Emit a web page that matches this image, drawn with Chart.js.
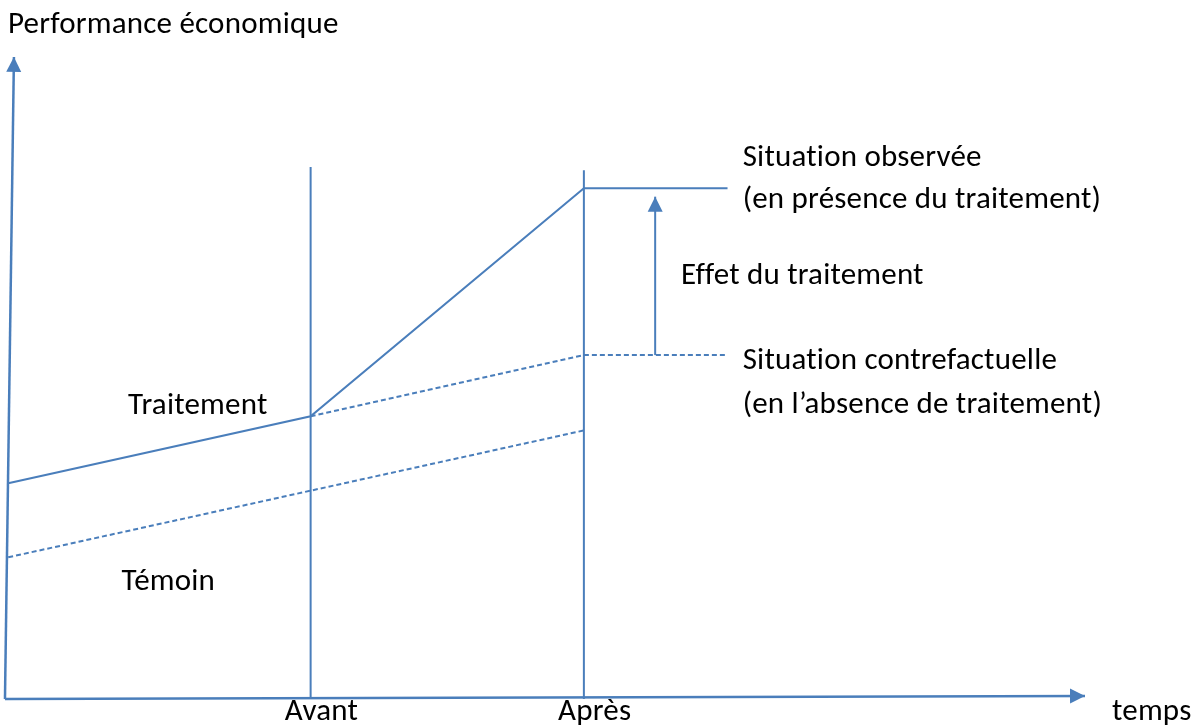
<!DOCTYPE html>
<html>
<head>
<meta charset="utf-8">
<script src="https://cdn.jsdelivr.net/npm/chart.js@4"></script>
<style>
  html, body { margin: 0; padding: 0; background: #fff; }
  canvas { display: block; }
</style>
</head>
<body>
<canvas id="chart" width="1198" height="727"></canvas>
<script>
// time positions (arbitrary units, origin = 0, axis end = 100)
const tStart = 0.3;
const tAvant = 28.3;
const tApres = 53.6;
const tEnd = 66.9;
const tEffet = 60.2;

// performance values
const traitement = [33.5, 43.9, 79.3, 79.3];     // start, avant, après, end
const contrefactuel = [43.9, 53.4, 53.4];        // avant, après, end
const temoin = [22.0, 41.7];                     // start, après
const effet = [53.4, 78.0];                      // bottom, tip
const verticalTop = [82.6, 82.1];                // avant, après

const timeLabels = ['Avant', 'Après'];

const blue = '#4a7ebb';

const line = (points, dashed, extra) => Object.assign({
  data: points,
  showLine: true,
  pointRadius: 0,
  borderColor: blue,
  borderWidth: 2,
  borderDash: dashed ? [5, 3] : [],
  fill: false
}, extra || {});

const datasets = [
  // axes
  line([{ x: 0, y: 0 }, { x: 0.83, y: 99.7 }], false, { arrow: true, borderWidth: 2.5 }),
  line([{ x: 0, y: 0 }, { x: 100, y: 0.47 }], false, { arrow: true, borderWidth: 2.5 }),
  // vertical markers
  line([{ x: tAvant, y: 0 }, { x: tAvant, y: verticalTop[0] }]),
  line([{ x: tApres, y: 0 }, { x: tApres, y: verticalTop[1] }]),
  // treatment group
  line([tStart, tAvant, tApres, tEnd].map((x, i) => ({ x, y: traitement[i] }))),
  // counterfactual
  line([tAvant, tApres, tEnd].map((x, i) => ({ x, y: contrefactuel[i] })), true),
  // control group
  line([tStart, tApres].map((x, i) => ({ x, y: temoin[i] })), true),
  // treatment effect
  line(effet.map(y => ({ x: tEffet, y })), false, { arrow: true })
];

const labels = [
  { text: 'Performance économique', x: 0.28, y: 103.4 },
  { text: 'Situation observée', x: 68.3, y: 82.8 },
  { text: '(en présence du traitement)', x: 68.3, y: 76.2 },
  { text: 'Effet du traitement', x: 62.6, y: 64.4 },
  { text: 'Situation contrefactuelle', x: 68.3, y: 51.2 },
  { text: '(en l\u2019absence de traitement)', x: 68.3, y: 44.4 },
  { text: 'Traitement', x: 11.4, y: 44.3 },
  { text: 'Témoin', x: 10.8, y: 16.9 },
  { text: timeLabels[0], x: tAvant + 1.0, y: -3.26, align: 'center' },
  { text: timeLabels[1], x: tApres + 1.0, y: -3.26, align: 'center' },
  { text: 'temps', x: 102.5, y: -3.26 }
];

const arrowHeads = {
  id: 'arrowHeads',
  afterDatasetsDraw(chart) {
    const ctx = chart.ctx;
    chart.data.datasets.forEach((ds, i) => {
      if (!ds.arrow) return;
      const pts = chart.getDatasetMeta(i).data;
      const a = pts[pts.length - 2], b = pts[pts.length - 1];
      const ang = Math.atan2(b.y - a.y, b.x - a.x);
      const len = 15, half = 7.5;
      ctx.save();
      ctx.translate(b.x, b.y);
      ctx.rotate(ang);
      ctx.beginPath();
      ctx.moveTo(0, 0);
      ctx.lineTo(-len, -half);
      ctx.lineTo(-len, half);
      ctx.closePath();
      ctx.fillStyle = blue;
      ctx.fill();
      ctx.restore();
    });
  }
};

const textLabels = {
  id: 'textLabels',
  afterDraw(chart) {
    const ctx = chart.ctx;
    const xs = chart.scales.x, ys = chart.scales.y;
    ctx.save();
    ctx.font = '31px Carlito, Lato, sans-serif';
    // a tiny letter spacing also keeps the "ti" ligature out
    ctx.letterSpacing = '0.2px';
    ctx.fillStyle = '#000';
    ctx.textBaseline = 'alphabetic';
    labels.forEach(l => {
      ctx.textAlign = l.align || 'left';
      ctx.fillText(l.text, xs.getPixelForValue(l.x), ys.getPixelForValue(l.y));
    });
    ctx.restore();
  }
};

new Chart(document.getElementById('chart'), {
  type: 'scatter',
  data: { datasets },
  options: {
    responsive: false,
    animation: false,
    layout: { padding: 0 },
    scales: {
      x: { type: 'linear', min: -0.46, max: 110.46, display: false },
      y: { type: 'linear', min: -4.35, max: 108.54, display: false }
    },
    plugins: { legend: { display: false }, tooltip: { enabled: false } }
  },
  plugins: [arrowHeads, textLabels]
});
</script>
</body>
</html>
